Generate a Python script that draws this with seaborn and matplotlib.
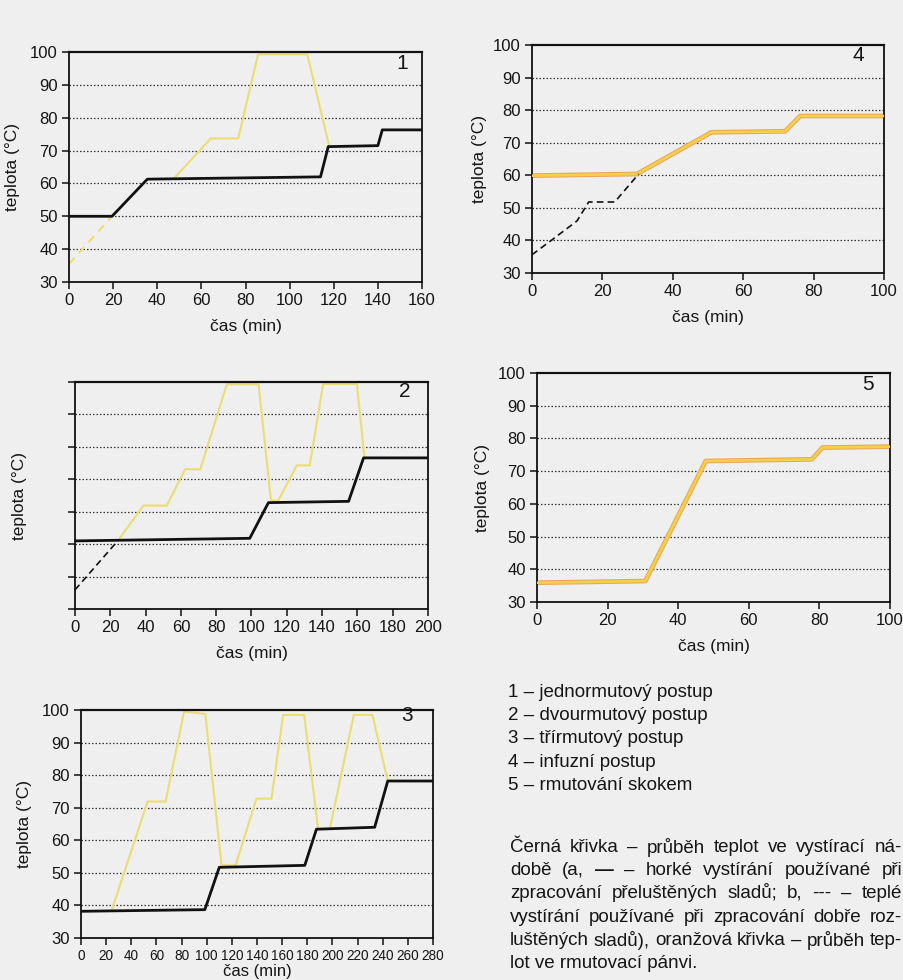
import matplotlib
matplotlib.use("Agg")
import matplotlib.pyplot as plt
import seaborn as sns

# ---------------- data ----------------
# Panel 1 - jednormutový postup
p1_black_t = [0, 19.5, 35.5, 114, 117.5, 140, 142, 160]
p1_black_T = [50, 50, 61.3, 62, 71.2, 71.5, 76.3, 76.3]
p1_warm_t = [0, 19.5]
p1_warm_T = [35.5, 50]
p1_mash_t = [47.5, 64.3, 76.7, 85.7, 108, 118]
p1_mash_T = [61.5, 73.7, 73.7, 99.3, 99.3, 71.2]

# Panel 2 - dvourmutový postup
p2_black_t = [0, 99, 109.6, 155, 163.5, 200]
p2_black_T = [51, 51.8, 62.8, 63.2, 76.6, 76.6]
p2_warm_t = [0, 24.5]
p2_warm_T = [35.9, 51.2]
p2_mash_t = [24.5, 38.8, 52, 62.4, 71, 86, 104, 111, 115, 125.7, 133, 140.6, 159.7, 164]
p2_mash_T = [51.2, 61.9, 61.9, 73.1, 73.1, 99.3, 99.3, 63.5, 63.3, 74.3, 74.3, 99.4, 99.4, 76.6]

# Panel 3 - třírmutový postup
p3_black_t = [0, 98.5, 110, 178, 187.3, 233.6, 244, 280]
p3_black_T = [38.2, 38.7, 51.7, 52.3, 63.4, 64, 78.2, 78.2]
p3_mash_t = [24.4, 53, 67.3, 82, 98.9, 111.8, 122.9, 139.6, 151.5, 160.8, 177.5, 188.6,
             197.9, 217, 231.8, 244]
p3_mash_T = [38.5, 71.9, 71.9, 99.5, 98.8, 52.3, 52.3, 72.8, 72.8, 98.5, 98.5, 63.5,
             63.5, 98.5, 98.5, 78.2]

# Panel 4 - infuzní postup
p4_mash_t = [0, 29.8, 51, 71.9, 76.2, 100]
p4_mash_T = [59.9, 60.4, 73.2, 73.5, 78.2, 78.2]
p4_warm_t = [0, 5.7, 12.8, 16.1, 23.5, 30.3]
p4_warm_T = [35.6, 40.2, 46, 51.8, 51.8, 60.4]

# Panel 5 - rmutování skokem
p5_mash_t = [0, 30.7, 47.8, 77.8, 80.9, 100]
p5_mash_T = [35.9, 36.4, 73.1, 73.6, 77.2, 77.5]

y_ticks = [30, 40, 50, 60, 70, 80, 90, 100]
grid_T = [40, 50, 60, 70, 80, 90]

legend_lines = [
    "1 – jednormutový postup",
    "2 – dvourmutový postup",
    "3 – třírmutový postup",
    "4 – infuzní postup",
    "5 – rmutování skokem",
]
note_lines = [
    "Černá křivka – průběh teplot ve vystírací ná-",
    "době (a, — – horké vystírání používané při",
    "zpracování přeluštěných sladů; b, --- – teplé",
    "vystírání používané při zpracování dobře roz-",
    "luštěných sladů), oranžová křivka – průběh tep-",
    "lot ve rmutovací pánvi.",
]

# ---------------- style ----------------
sns.set_theme(style="white")
BG = "#efefef"
plt.rcParams["font.family"] = ["Liberation Sans", "DejaVu Sans"]

W, H = 904, 980
fig = plt.figure(figsize=(W / 100, H / 100), dpi=100, facecolor=BG)

YEL = "#ebdd72"
ORG_EDGE = "#eba65a"
ORG_CORE = "#f3d04a"
BLK = "#111111"
TXT = "#151515"


def make_ax(l, t, r, b):
    return fig.add_axes([l / W, 1 - b / H, (r - l) / W, (b - t) / H])


def style_ax(ax, xmax, xstep, num, numpos, ylabels=True, xfs=12):
    ax.set_facecolor(BG)
    ax.set_xlim(0, xmax)
    ax.set_ylim(30, 100)
    ax.set_yticks(y_ticks)
    if ylabels:
        ax.set_yticklabels([str(v) for v in y_ticks], fontsize=12)
    else:
        ax.set_yticklabels([])
    xt = list(range(0, xmax + 1, xstep))
    ax.set_xticks(xt)
    ax.set_xticklabels([str(v) for v in xt], fontsize=xfs)
    ax.tick_params(axis="both", direction="out", length=5, width=1.1, color=BLK,
                   labelcolor=TXT, pad=3, left=True, bottom=True)
    for g in grid_T:
        ax.axhline(g, color="#333333", lw=0.9, ls=(0, (1.2, 1.6)), zorder=1)
    for s in ax.spines.values():
        s.set_visible(True)
        s.set_color(BLK)
        s.set_linewidth(1.3)
    ax.spines["top"].set_linewidth(1.6)
    ax.set_xlabel("čas (min)", fontsize=12.5, color=TXT)
    ax.set_ylabel("teplota (°C)", fontsize=12.5, color=TXT)
    ax.xaxis.set_label_coords(0.5, -37 / 229)
    ax.text(numpos[0], numpos[1], num, transform=ax.transAxes, fontsize=15,
            ha="center", va="center", color=TXT)


def line(ax, t, T, color, lw, ls="-", z=3):
    sns.lineplot(x=t, y=T, ax=ax, color=color, lw=lw, linestyle=ls, sort=False,
                 estimator=None, zorder=z, legend=False)


# Panel 1
ax1 = make_ax(69, 52, 422, 282)
line(ax1, p1_warm_t, p1_warm_T, YEL, 1.5, ls=(0, (4, 3)), z=2)
line(ax1, p1_mash_t, p1_mash_T, YEL, 1.5, z=2)
line(ax1, p1_black_t, p1_black_T, BLK, 2.0, z=4)
style_ax(ax1, 160, 20, "1", (0.943, 0.952))
ax1.yaxis.set_label_coords(-0.139, 0.5)

# Panel 4
ax4 = make_ax(532, 45, 884, 273)
line(ax4, p4_mash_t, p4_mash_T, ORG_EDGE, 3.4, z=2)
line(ax4, p4_mash_t, p4_mash_T, ORG_CORE, 1.9, z=3)
line(ax4, p4_warm_t, p4_warm_T, BLK, 1.2, ls=(0, (4, 2.5)), z=4)
style_ax(ax4, 100, 20, "4", (0.926, 0.956))
ax4.yaxis.set_label_coords(-0.128, 0.5)

# Panel 2
ax2 = make_ax(75, 382, 428, 609)
line(ax2, p2_mash_t, p2_mash_T, YEL, 1.5, z=2)
line(ax2, p2_warm_t, p2_warm_T, BLK, 1.2, ls=(0, (4, 2.5)), z=4)
line(ax2, p2_black_t, p2_black_T, BLK, 2.0, z=4)
style_ax(ax2, 200, 20, "2", (0.935, 0.956), ylabels=False)
ax2.yaxis.set_label_coords(-0.136, 0.5)

# Panel 5
ax5 = make_ax(537, 373, 890, 602)
line(ax5, p5_mash_t, p5_mash_T, ORG_EDGE, 3.4, z=2)
line(ax5, p5_mash_t, p5_mash_T, ORG_CORE, 1.9, z=3)
style_ax(ax5, 100, 20, "5", (0.938, 0.948))
ax5.yaxis.set_label_coords(-0.133, 0.5)

# Panel 3
ax3 = make_ax(81, 710, 433, 938)
line(ax3, p3_mash_t, p3_mash_T, YEL, 1.5, z=2)
line(ax3, p3_black_t, p3_black_T, BLK, 2.0, z=4)
style_ax(ax3, 280, 20, "3", (0.926, 0.975), xfs=9.8)
ax3.yaxis.set_label_coords(-0.139, 0.5)
ax3.xaxis.set_label_coords(0.5, -26 / 228)
ax3.xaxis.label.set_fontsize(12)

# ---------------- text block ----------------
leg_y = [692, 715, 738, 762, 786]
for s, yy in zip(legend_lines, leg_y):
    fig.text(508 / W, 1 - yy / H, s, fontsize=13.5, ha="left", va="center",
             color=TXT)

renderer = fig.canvas.get_renderer()
note_y = [847, 870, 893, 917, 940, 963]
x0, x1 = 510, 902


def measure(words, fs):
    ws = []
    for w in words:
        wt = "bold" if w == "—" else "normal"
        t = fig.text(0, 0, w, fontsize=fs, fontweight=wt)
        ws.append(t.get_window_extent(renderer=renderer).width)
        t.remove()
    return ws


# choose the largest size (<= 13.5) for which every justified line keeps a gap >= 3.5 px
NFS = 13.5
while NFS > 10:
    ok = True
    for s in note_lines[:-1]:
        words = s.split(" ")
        ws = measure(words, NFS)
        if (x1 - x0 - sum(ws)) / (len(words) - 1) < 3.5:
            ok = False
            break
    if ok:
        break
    NFS -= 0.1

for i, (s, yy) in enumerate(zip(note_lines, note_y)):
    words = s.split(" ")
    if i == len(note_lines) - 1:
        fig.text(x0 / W, 1 - yy / H, s, fontsize=NFS, ha="left", va="center",
                 color=TXT)
        continue
    ws = measure(words, NFS)
    gap = (x1 - x0 - sum(ws)) / (len(words) - 1)
    xx = x0
    for w, wd in zip(words, ws):
        wt = "bold" if w == "—" else "normal"
        fig.text(xx / W, 1 - yy / H, w, fontsize=NFS, ha="left", va="center",
                 color=TXT, fontweight=wt)
        xx += wd + gap

fig.savefig("out.png", dpi=100, facecolor=BG)
